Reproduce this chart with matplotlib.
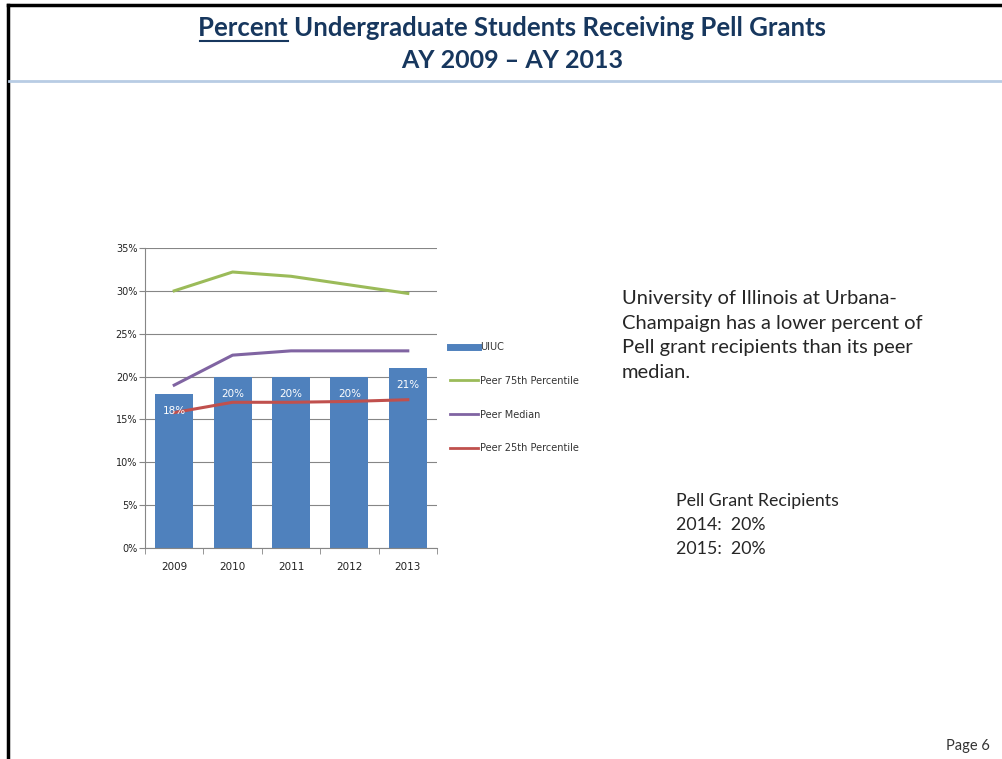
import matplotlib
matplotlib.use("Agg")
import matplotlib.pyplot as plt
from matplotlib.lines import Line2D
import numpy as np

years = ["2009", "2010", "2011", "2012", "2013"]
uiuc = [18, 20, 20, 20, 21]
peer75 = [30.0, 32.2, 31.7, 30.7, 29.7]
peer_median = [19.0, 22.5, 23.0, 23.0, 23.0]
peer25 = [15.8, 17.0, 17.0, 17.1, 17.3]
y_ticks = [0, 5, 10, 15, 20, 25, 30, 35]

FONT = ["Lato", "DejaVu Sans"]
SMALL = ["DejaVu Sans"]
plt.rcParams['font.family'] = FONT

W, H = 1003, 759
fig = plt.figure(figsize=(W / 100, H / 100), dpi=100)

def fx(px):
    return px / W

def fy(py):
    return 1 - py / H

# slide frame
fig.add_artist(Line2D([fx(8), fx(8)], [fy(5), fy(759)], color="black", lw=2.5))
fig.add_artist(Line2D([fx(8), fx(1003)], [fy(5), fy(5)], color="black", lw=2.5))
fig.add_artist(Line2D([fx(9), fx(1003)], [fy(81), fy(81)], color="#B8CCE4", lw=2))

# title
title_color = "#17375E"
TS = 18.5
t1 = fig.text(fx(512), fy(28), "Percent Undergraduate Students Receiving Pell Grants",
              ha="center", va="center", fontsize=TS, fontweight="bold", color=title_color)
fig.text(fx(512), fy(60), "AY 2009 \u2013 AY 2013", ha="center", va="center",
         fontsize=18, fontweight="bold", color=title_color)

# axes
ax = fig.add_axes([fx(145), fy(548), fx(437) - fx(145), fy(248) - fy(548)])
x = np.arange(len(years))
ax.bar(x, uiuc, width=0.65, color="#4F81BD", label="UIUC", zorder=2)
ax.plot(x, peer75, color="#9BBB59", lw=2.2, label="Peer 75th Percentile", zorder=3)
ax.plot(x, peer_median, color="#8064A2", lw=2.2, label="Peer Median", zorder=3)
ax.plot(x, peer25, color="#C0504D", lw=2.2, label="Peer 25th Percentile", zorder=3)

for xi, v in zip(x, uiuc):
    ax.text(xi, v - 2.0, f"{v}%", ha="center", va="center", color="white",
            fontsize=7.5, family=SMALL, zorder=4)

ax.set_xlim(-0.5, len(years) - 0.5)
ax.set_ylim(0, 35)
ax.set_yticks(y_ticks)
ax.set_yticklabels([f"{t}%" for t in y_ticks], family=SMALL)
ax.yaxis.grid(True, color="#868686", lw=0.8)
ax.set_axisbelow(True)
ax.set_xticks(x)
ax.set_xticklabels(years, family=SMALL)
ax.set_xticks(np.arange(-0.5, len(years), 1), minor=True)
ax.tick_params(axis="x", which="major", length=0, labelsize=7.5, pad=10, colors="#222222")
ax.tick_params(axis="x", which="minor", length=4, color="#868686", direction="out")
ax.tick_params(axis="y", length=4, color="#868686", labelsize=7, colors="#222222", pad=1.5)
for s in ["top", "right"]:
    ax.spines[s].set_visible(False)
ax.spines["left"].set_color("#868686")
ax.spines["bottom"].set_color("#868686")

handles = [Line2D([], [], color="#4F81BD", lw=5),
           Line2D([], [], color="#9BBB59", lw=2),
           Line2D([], [], color="#8064A2", lw=2),
           Line2D([], [], color="#C0504D", lw=2)]
labels = ["UIUC", "Peer 75th Percentile", "Peer Median", "Peer 25th Percentile"]
fig.legend(handles, labels, loc="upper left", bbox_to_anchor=(fx(450), fy(342)),
           frameon=False, prop={"family": SMALL, "size": 7}, handlelength=2.9,
           handletextpad=0.15, labelspacing=2.45, borderaxespad=0, borderpad=0,
           labelcolor="#333333")

# side text
body_color = "#262626"
fig.text(fx(622), fy(290), "University of Illinois at Urbana-\nChampaign has a lower percent of\nPell grant recipients than its peer\nmedian.",
         ha="left", va="top", fontsize=14.5, color=body_color, linespacing=1.55)
fig.text(fx(676), fy(493), "Pell Grant Recipients\n2014:  20%\n2015:  20%",
         ha="left", va="top", fontsize=12.8, color=body_color, linespacing=1.62)
fig.text(fx(990), fy(746), "Page 6", ha="right", va="center", fontsize=10.5, color="#333333")

# underline "Percent"
fig.canvas.draw()
r = fig.canvas.get_renderer()
bb = t1.get_window_extent(r)
t_tmp = fig.text(0, 0, "Percent", fontsize=TS, fontweight="bold")
wbb = t_tmp.get_window_extent(r)
t_tmp.remove()
y_ul = (bb.y0 - 1) / fig.bbox.height
fig.add_artist(Line2D([(bb.x0 + 2) / fig.bbox.width, (bb.x0 + wbb.width) / fig.bbox.width],
                      [y_ul, y_ul], color=title_color, lw=1.5))

fig.savefig("out.png", dpi=100)
